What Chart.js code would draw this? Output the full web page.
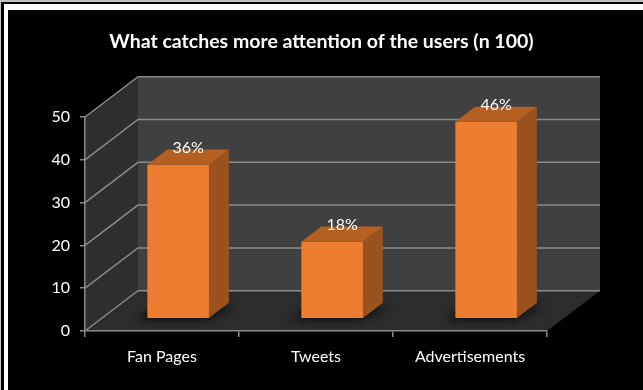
<!DOCTYPE html>
<html>
<head>
<meta charset="utf-8">
<script src="https://cdn.jsdelivr.net/npm/chart.js@4/dist/chart.umd.min.js"></script>
<style>
  html, body { margin: 0; padding: 0; background: #ffffff; }
  #wrap { width: 643px; height: 390px; }
</style>
</head>
<body>
<div id="wrap"><canvas id="chart" width="643" height="390"></canvas></div>
<script>
// Survey results: what catches more attention of the users (n = 100)
const categories = ['Fan Pages', 'Tweets', 'Advertisements'];
const shares = [36, 18, 46];
const yTicks = [0, 10, 20, 30, 40, 50];
const titleText = 'What catches more attention of the users (n 100)';

const FONT = 'Lato, "Open Sans", sans-serif';

// Oblique projection used for the walls, floor and bar depth
const DEPTH = { dx: 53, dy: -40.3 };   // full floor depth
const BAR_FRONT = 0.305;               // bar front face position in depth
const BAR_DEPTH = 0.375;               // bar thickness in depth

const GRID = '#8a8a8a';

const scene3d = {
  id: 'scene3d',
  beforeDraw(chart) {
    const { ctx, width, height } = chart;
    // framed black panel
    ctx.save();
    ctx.fillStyle = '#c4c4c4';
    ctx.fillRect(0, 0, width, height);
    ctx.fillStyle = '#000000';
    ctx.fillRect(1, 2, width, height);
    ctx.fillStyle = '#ffffff';
    ctx.fillRect(4, 4, width, height);
    ctx.fillStyle = '#000000';
    ctx.fillRect(8, 10, width, height);

    const x = chart.scales.x, y = chart.scales.y;
    const L = x.left, R = x.right;
    const y0 = y.getPixelForValue(y.min), yTop = y.getPixelForValue(y.max);
    const { dx, dy } = DEPTH;

    // side wall
    ctx.fillStyle = '#2e2e2e';
    ctx.beginPath();
    ctx.moveTo(L, y0); ctx.lineTo(L, yTop);
    ctx.lineTo(L + dx, yTop + dy); ctx.lineTo(L + dx, y0 + dy);
    ctx.closePath(); ctx.fill();

    // back wall
    ctx.fillStyle = '#404040';
    ctx.fillRect(L + dx, yTop + dy, R - L, y0 - yTop);

    // floor
    ctx.fillStyle = '#2c2c2c';
    ctx.beginPath();
    ctx.moveTo(L, y0); ctx.lineTo(R, y0);
    ctx.lineTo(R + dx, y0 + dy); ctx.lineTo(L + dx, y0 + dy);
    ctx.closePath(); ctx.fill();

    // gridlines across the side wall and the back wall
    ctx.strokeStyle = GRID;
    ctx.lineWidth = 1.5;
    yTicks.forEach(v => {
      const py = y.getPixelForValue(v);
      ctx.beginPath();
      ctx.moveTo(L, py);
      ctx.lineTo(L + dx, py + dy);
      ctx.lineTo(R + dx, py + dy);
      ctx.stroke();
    });
    ctx.restore();
  },
  beforeDatasetsDraw(chart) {
    // soft contact shadows under the bars
    const { ctx } = chart;
    const f = BAR_FRONT, d = BAR_DEPTH, { dx, dy } = DEPTH;
    ctx.save();
    ctx.filter = 'blur(4px)';
    ctx.fillStyle = 'rgba(0,0,0,0.75)';
    chart.getDatasetMeta(0).data.forEach(el => {
      const p = el.getProps(['x', 'base', 'width'], true);
      const x1 = p.x - p.width / 2 + dx * f - 10, x2 = p.x + p.width / 2 + dx * f - 4;
      const yb = p.base + dy * f + 2;
      ctx.beginPath();
      ctx.moveTo(x1, yb); ctx.lineTo(x2, yb);
      ctx.lineTo(x2 + dx * d + 10, yb + dy * d + 2);
      ctx.lineTo(x1 + dx * d, yb + dy * d + 2);
      ctx.closePath(); ctx.fill();
    });
    ctx.restore();
  },
  beforeDatasetDraw(chart) {
    const { dx, dy } = DEPTH;
    chart.ctx.save();
    chart.ctx.translate(dx * BAR_FRONT, dy * BAR_FRONT);
  },
  afterDatasetDraw(chart, args) {
    const { ctx } = chart;
    ctx.restore();
    const f = BAR_FRONT, d = BAR_DEPTH, { dx, dy } = DEPTH;
    const bdx = dx * d, bdy = dy * d;
    args.meta.data.forEach((el, i) => {
      const p = el.getProps(['x', 'y', 'base', 'width'], true);
      const x1 = p.x - p.width / 2 + dx * f, x2 = p.x + p.width / 2 + dx * f;
      const yt = p.y + dy * f, yb = p.base + dy * f;
      // right side face
      ctx.fillStyle = '#9c521f';
      ctx.beginPath();
      ctx.moveTo(x2, yb); ctx.lineTo(x2, yt);
      ctx.lineTo(x2 + bdx, yt + bdy); ctx.lineTo(x2 + bdx, yb + bdy);
      ctx.closePath(); ctx.fill();
      // top face
      ctx.fillStyle = '#b65f22';
      ctx.beginPath();
      ctx.moveTo(x1, yt); ctx.lineTo(x2, yt);
      ctx.lineTo(x2 + bdx, yt + bdy); ctx.lineTo(x1 + bdx, yt + bdy);
      ctx.closePath(); ctx.fill();
      // value label
      ctx.fillStyle = '#ffffff';
      ctx.font = '16px ' + FONT;
      ctx.textAlign = 'center';
      ctx.textBaseline = 'middle';
      ctx.fillText(shares[i] + '%', p.x + dx * f + bdx / 2, yt + bdy - 1.5);
    });
  }
};

new Chart(document.getElementById('chart'), {
  type: 'bar',
  data: {
    labels: categories,
    datasets: [{
      data: shares,
      backgroundColor: '#ed7d31',
      borderWidth: 0,
      barPercentage: 0.4,
      categoryPercentage: 1.0,
      clip: false
    }]
  },
  options: {
    responsive: false,
    animation: false,
    devicePixelRatio: 1,
    layout: { padding: 0 },
    plugins: {
      legend: { display: false },
      tooltip: { enabled: false },
      title: {
        display: true,
        text: titleText,
        color: '#ffffff',
        font: { family: FONT, size: 19.5, weight: 'bold', lineHeight: 1.2 },
        padding: { top: 30.3, bottom: 63.3 }
      }
    },
    scales: {
      x: {
        afterFit(s) { s.height = 59; },
        grid: { drawOnChartArea: false, color: GRID, tickLength: 6, lineWidth: 1.5 },
        border: { color: GRID, width: 1.5 },
        ticks: { color: '#ffffff', padding: 10, font: { family: FONT, size: 16 } }
      },
      y: {
        min: 0, max: 50,
        afterFit(s) { s.width = 85; },
        afterBuildTicks(s) { s.ticks = yTicks.map(v => ({ value: v })); },
        grid: { drawOnChartArea: false, color: GRID, tickLength: 5, lineWidth: 1.5 },
        border: { color: GRID, width: 1.5 },
        ticks: { color: '#ffffff', padding: 10, font: { family: FONT, size: 16 } }
      },
      // empty strip on the right that holds the depth of the floor and back wall
      depthSpace: {
        type: 'linear',
        position: 'right',
        afterFit(s) { s.width = 96; },
        grid: { display: false },
        border: { display: false },
        ticks: { display: false }
      }
    }
  },
  plugins: [scene3d]
});
</script>
</body>
</html>
